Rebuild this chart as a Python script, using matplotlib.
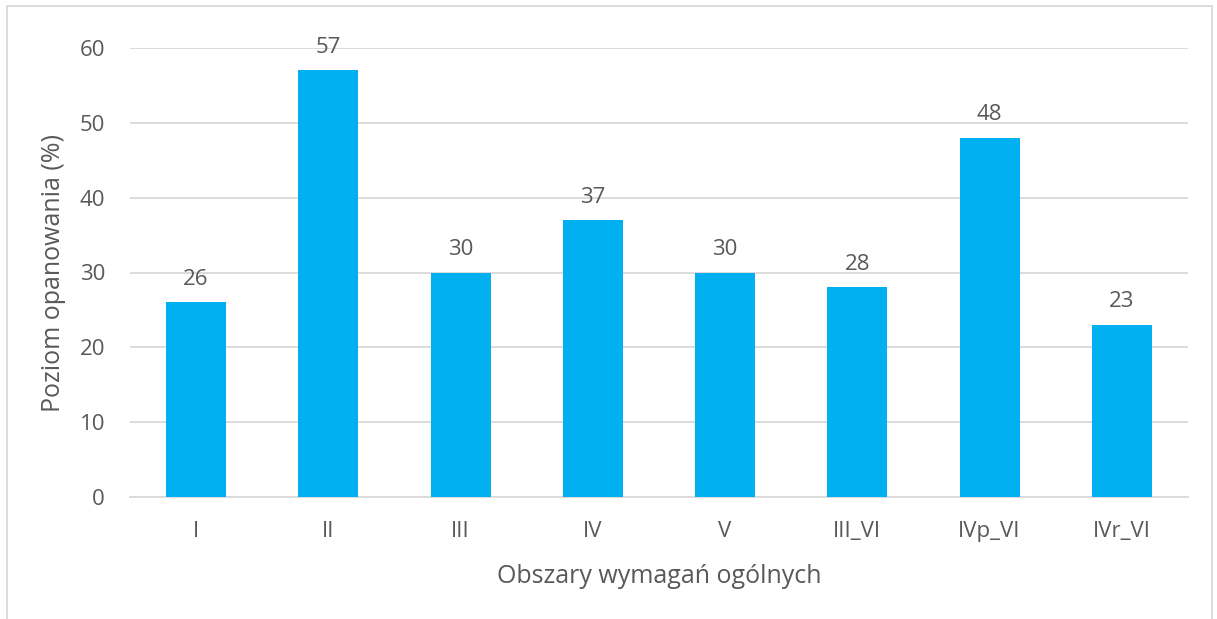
import matplotlib.pyplot as plt
from matplotlib.patches import Rectangle

categories = ["I", "II", "III", "IV", "V", "III_VI", "IVp_VI", "IVr_VI"]
values = [26, 57, 30, 37, 30, 28, 48, 23]
yticks = [0, 10, 20, 30, 40, 50, 60]

W, H = 1217, 619
TEXT = "#595959"
GRID = "#D9D9D9"
BAR = "#00B0F0"

plt.rcParams["font.family"] = ["Open Sans", "DejaVu Sans"]

fig = plt.figure(figsize=(W / 100, H / 100), dpi=100)
ax = fig.add_axes([130 / W, 1 - 497 / H, (1188 - 130) / W, (497 - 48) / H])

x = range(len(categories))
bars = ax.bar(x, values, width=0.455, color=BAR, zorder=3)
for b, v in zip(bars, values):
    ax.annotate(str(v), (b.get_x() + b.get_width() / 2, v), xytext=(0, 9),
                textcoords="offset points", ha="center", va="bottom",
                fontsize=16, color=TEXT)

ax.set_xlim(-0.5, len(categories) - 0.5)
ax.set_ylim(0, 60)
ax.set_yticks(yticks)
ax.set_xticks(list(x))
ax.set_xticklabels(categories)
ax.grid(axis="y", color=GRID, linewidth=1.3, zorder=0)
for s in ["top", "right", "left"]:
    ax.spines[s].set_visible(False)
ax.spines["bottom"].set_color(GRID)
ax.spines["bottom"].set_linewidth(1.3)
ax.tick_params(length=0, labelsize=16, labelcolor=TEXT)
ax.tick_params(axis="x", pad=17)
ax.tick_params(axis="y", pad=18)
ax.set_xlabel("Obszary wymagań ogólnych", fontsize=18, color=TEXT, labelpad=16)
ax.set_ylabel("Poziom opanowania (%)", fontsize=18, color=TEXT, labelpad=10)

fig.patches.append(Rectangle((7 / W, -0.05), (1212 - 7) / W, 1.05 - 6 / H,
                             transform=fig.transFigure, fill=False,
                             edgecolor=GRID, linewidth=1.3))

fig.savefig("out.png", dpi=100)
